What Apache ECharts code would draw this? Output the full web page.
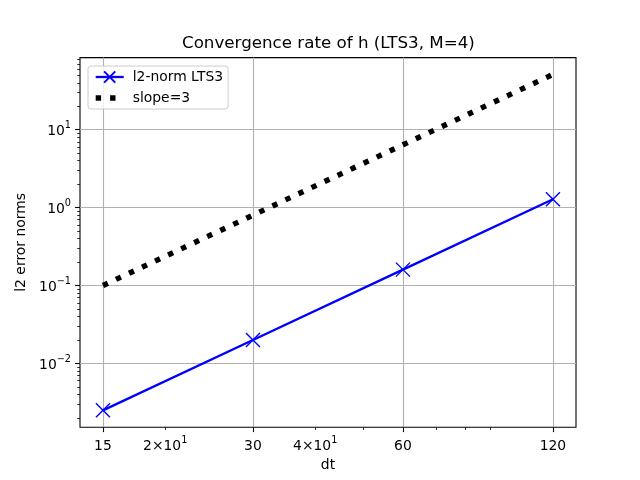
<!DOCTYPE html>
<html>
<head>
<meta charset="utf-8">
<script src="https://cdn.jsdelivr.net/npm/echarts@6/dist/echarts.min.js"></script>
<style>
  html, body { margin: 0; padding: 0; background: #fff; }
  #chart { width: 640px; height: 480px; }
</style>
</head>
<body>
<div id="chart"></div>
<script>
// values
var dt = [15, 30, 60, 120];
var l2Norm = [0.0025, 0.02, 0.16, 1.28];
var slope3 = [0.1, 0.8, 6.4, 51.2];

// tick positions and labels (base text + superscript)
var xMajor = [15, 30, 60, 120];
var xLabelValues = [15, 20, 30, 40, 60, 120];
var xLabelBase = ['15', '2×10', '30', '4×10', '60', '120'];
var xLabelSup = ['', '1', '', '1', '', ''];
var xMinor = [20, 40, 50, 70, 80, 90];
var yMajor = [0.01, 0.1, 1, 10];
var yLabelBase = ['10', '10', '10', '10'];
var yLabelSup = ['−2', '−1', '0', '1'];
var yMinor = [0.002, 0.003, 0.004, 0.005, 0.006, 0.007, 0.008, 0.009,
              0.02, 0.03, 0.04, 0.05, 0.06, 0.07, 0.08, 0.09,
              0.2, 0.3, 0.4, 0.5, 0.6, 0.7, 0.8, 0.9,
              2, 3, 4, 5, 6, 7, 8, 9,
              20, 30, 40, 50, 60, 70, 80];

var FONT = 'DejaVu Sans';
var xMin = 13.49, xMax = 133.5;
var yMin = 0.00152, yMax = 84.2;

// index of the closest tick value (log axis values can drift a little)
function nearest(values, v) {
    var best = 0;
    for (var i = 1; i < values.length; i++) {
        if (Math.abs(Math.log(values[i] / v)) < Math.abs(Math.log(values[best] / v))) best = i;
    }
    return best;
}

function tickText(base, sup) {
    return sup ? '{b|' + base + '}{s|' + sup + '}' : '{b|' + base + '}';
}

var richLabel = {
    b: { fontFamily: FONT, fontSize: 13.9, color: '#000', verticalAlign: 'bottom', lineHeight: 18 },
    s: { fontFamily: FONT, fontSize: 9.7, color: '#000', verticalAlign: 'top', lineHeight: 18 }
};

var xSymbol = 'path://M0,0L10,10M10,0L0,10';
var dotted = { color: '#000', width: 5.4, type: [5.4, 9], cap: 'butt' };

var chart = echarts.init(document.getElementById('chart'), null, {renderer: 'canvas'});
chart.setOption({
    animation: false,
    backgroundColor: '#fff',
    title: {
        text: 'Convergence rate of h (LTS3, M=4)',
        left: 182,
        top: 35,
        padding: 0,
        textStyle: { fontFamily: FONT, fontSize: 16.7, fontWeight: 'normal', color: '#000' }
    },
    legend: {
        orient: 'vertical',
        left: 88,
        top: 66,
        padding: [4, 5, 4, 5],
        itemGap: 7,
        itemWidth: 28,
        itemHeight: 14,
        backgroundColor: 'rgba(255,255,255,0.8)',
        borderColor: '#cccccc',
        borderWidth: 1,
        borderRadius: 3,
        textStyle: { fontFamily: FONT, fontSize: 13.9, color: '#000', padding: [0, 0, 0, 4] },
        data: [
            { name: 'l2-norm LTS3', lineStyle: { width: 2.3 } },
            { name: 'slope=3', lineStyle: dotted }
        ]
    },
    grid: {
        left: 80, right: 64, top: 57.6, bottom: 52.8,
        show: true,
        borderColor: '#000',
        borderWidth: 1.1,
        containLabel: false
    },
    xAxis: [
        {
            type: 'log',
            logBase: 10,
            min: xMin,
            max: xMax,
            name: 'dt',
            nameLocation: 'middle',
            nameGap: 29,
            nameTextStyle: { fontFamily: FONT, fontSize: 13.9, color: '#000' },
            axisLine: { show: false },
            axisTick: { show: true, inside: false, length: 4.9, customValues: xMajor,
                        lineStyle: { color: '#000', width: 1.1 } },
            axisLabel: {
                customValues: xLabelValues,
                margin: 8,
                fontFamily: FONT, fontSize: 13.9, color: '#000',
                rich: richLabel,
                formatter: function (v) {
                    var i = nearest(xLabelValues, v);
                    return tickText(xLabelBase[i], xLabelSup[i]);
                }
            },
            splitLine: { show: true, lineStyle: { color: '#b0b0b0', width: 1.1 } }
        },
        {
            type: 'log',
            logBase: 10,
            min: xMin,
            max: xMax,
            position: 'bottom',
            axisLine: { show: false },
            axisTick: { show: true, inside: false, length: 2.8, customValues: xMinor,
                        lineStyle: { color: '#000', width: 0.8 } },
            axisLabel: { show: false },
            splitLine: { show: false }
        }
    ],
    yAxis: [
        {
            type: 'log',
            logBase: 10,
            min: yMin,
            max: yMax,
            name: 'l2 error norms',
            nameLocation: 'middle',
            nameGap: 49,
            nameTextStyle: { fontFamily: FONT, fontSize: 13.9, color: '#000' },
            axisLine: { show: false },
            axisTick: { show: true, inside: false, length: 4.9, customValues: yMajor,
                        lineStyle: { color: '#000', width: 1.1 } },
            axisLabel: {
                customValues: yMajor,
                margin: 9,
                fontFamily: FONT, fontSize: 13.9, color: '#000',
                rich: richLabel,
                formatter: function (v) {
                    var i = nearest(yMajor, v);
                    return tickText(yLabelBase[i], yLabelSup[i]);
                }
            },
            splitLine: { show: true, lineStyle: { color: '#b0b0b0', width: 1.1 } }
        },
        {
            type: 'log',
            logBase: 10,
            min: yMin,
            max: yMax,
            position: 'left',
            axisLine: { show: false },
            axisTick: { show: true, inside: false, length: 2.8, customValues: yMinor,
                        lineStyle: { color: '#000', width: 0.8 } },
            axisLabel: { show: false },
            splitLine: { show: false }
        }
    ],
    series: [
        {
            name: 'l2-norm LTS3',
            type: 'line',
            xAxisIndex: 0,
            yAxisIndex: 0,
            data: dt.map(function (x, i) { return [x, l2Norm[i]]; }),
            symbol: xSymbol,
            symbolSize: 14,
            showAllSymbol: true,
            lineStyle: { color: '#0000ff', width: 2.3 },
            itemStyle: { color: '#0000ff', borderColor: '#0000ff', borderWidth: 1.4 },
            z: 3
        },
        {
            name: 'slope=3',
            type: 'line',
            xAxisIndex: 0,
            yAxisIndex: 0,
            data: dt.map(function (x, i) { return [x, slope3[i]]; }),
            // transparent symbol so the legend shows only the dotted line
            symbol: 'rect',
            showSymbol: false,
            lineStyle: dotted,
            itemStyle: { color: 'rgba(0,0,0,0)', borderWidth: 0 },
            z: 2
        }
    ]
});
</script>
</body>
</html>
